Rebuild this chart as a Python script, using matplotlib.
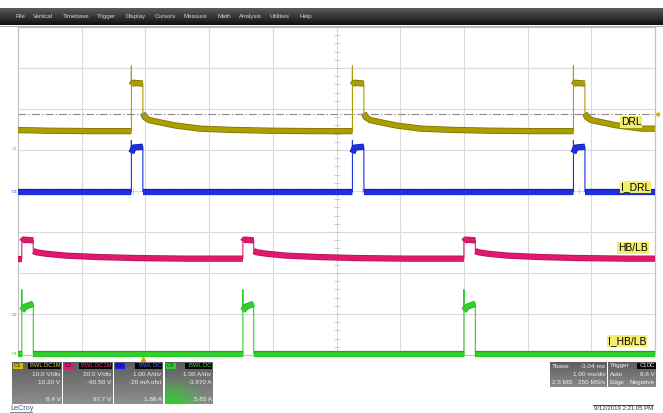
import numpy as np
import matplotlib.pyplot as plt
import matplotlib.colors as mcolors
from matplotlib.transforms import Bbox, TransformedBbox, blended_transform_factory

plt.rcParams['font.family'] = ['Liberation Sans', 'DejaVu Sans']

W, H = 663, 413

# horizontal: 1.00 ms/div, trigger delay -3.04 ms -> left edge at -1.96 ms
t_left, t_right = -1.96, 8.04
trigger_level = 8.6  # V, C1 negative edge

# C1  DRL voltage, 10 V/div, offset 10.20 V
drl_scale, drl_offset = 10.0, 10.20
drl_rise = [-3.65, -0.18, 3.29, 6.76]
drl_fall = [-3.47, 0.00, 3.47, 6.94]
drl_spike = 20.3
drl_top_f = [0.0, 0.15, 1.0]
drl_top_v = [15.6, 16.2, 16.0]
drl_tail_t = [0.0, 0.03, 0.10, 0.25, 0.50, 0.90, 1.40, 2.00, 2.70, 3.30]
drl_tail_v = [8.8, 7.8, 7.1, 6.6, 5.8, 5.0, 4.7, 4.5, 4.4, 4.35]

# C3  I_DRL current, 1.00 A/div, offset -20 mA
idrl_scale, idrl_offset = 1.0, -0.020
idrl_spike = 1.25
idrl_top_f = [0.0, 0.2, 1.0]
idrl_top_v = [0.95, 1.08, 1.10]
idrl_tail_t = [0.0, 3.3]
idrl_tail_v = [0.0, 0.0]

# C2  HB/LB voltage, 20 V/div, offset -60.50 V
hb_scale, hb_offset = 20.0, -60.50
hb_rise = [-5.37, -1.90, 1.57, 5.04]
hb_fall = [-5.20, -1.72, 1.74, 5.22]
hb_top_f = [0.0, 0.15, 1.0]
hb_top_v = [35.8, 36.8, 36.4]
hb_tail_t = [0.0, 0.05, 0.20, 0.50, 1.00, 1.60, 2.40, 3.30]
hb_tail_v = [31.2, 30.6, 29.9, 29.0, 28.3, 27.8, 27.5, 27.3]

# C4  I_HB/LB current, 1.00 A/div, offset -3.970 A
ihb_scale, ihb_offset = 1.0, -3.970
ihb_spike = 1.56
ihb_top_f = [0.0, 0.3, 1.0]
ihb_top_v = [1.05, 1.15, 1.22]
ihb_tail_t = [0.0, 3.3]
ihb_tail_v = [0.0, 0.0]

trace_labels = ['DRL', 'I_DRL', 'HB/LB', 'I_HB/LB']

menu_items = ['File', 'Vertical', 'Timebase', 'Trigger', 'Display', 'Cursors',
              'Measure', 'Math', 'Analysis', 'Utilities', 'Help']
menu_x = [15, 33, 63, 97, 125, 155, 184, 217, 239, 270, 300]

ch_names = ['C1', 'C2', 'C3', 'C4']
ch_coupling = ['BWL DC1M', 'BWL DC1M', 'BWL DC', 'BWL DC']
ch_vdiv = ['10.0 V/div', '20.0 V/div', '1.00 A/div', '1.00 A/div']
ch_ofst = ['10.20 V', '-60.50 V', '-20 mA ofst', '-3.970 A']
ch_meas = ['8.4 V', '97.7 V', '1.88 A', '5.83 A']

tbase_rows = [('Tbase', '-3.04 ms'), ('', '1.00 ms/div'), ('2.5 MS', '250 MS/s')]
trig_rows = [('Trigger', ''), ('Auto', '8.6 V'), ('Edge', 'Negative')]
stamp = '9/12/2019 2:21:05 PM'

c_drl, c_drl_d = '#aa9e00', '#7a7100'
c_idrl, c_idrl_d = '#1e30e0', '#1222a8'
c_hb, c_hb_d = '#e0186f', '#b0125a'
c_ihb, c_ihb_d = '#30d02b', '#1fa81e'


def build_trace(rise, fall, spike, top_f, top_v, tail_t, tail_v, t_end):
    thin_t, thin_v, bands = [], [], []
    for i, (r, f) in enumerate(zip(rise, fall)):
        nxt = rise[i + 1] if i + 1 < len(rise) else t_end
        top_t = [r + k * (f - r) for k in top_f]
        keep = [k for k, dt in enumerate(tail_t) if f + dt < nxt]
        tl_t = [f + tail_t[k] for k in keep] + [nxt]
        tl_v = [tail_v[k] for k in keep] + [tail_v[keep[-1]]]
        if spike is not None:
            thin_t.append(r)
            thin_v.append(spike)
        thin_t += top_t + tl_t
        thin_v += list(top_v) + tl_v
        bands.append((top_t, list(top_v)))
        bands.append((tl_t, tl_v))
    return thin_t, thin_v, bands


fig = plt.figure(figsize=(W / 100, H / 100), dpi=100)
fig.patch.set_facecolor('white')

# pixel-space background layer
bg = fig.add_axes([0, 0, 1, 1], zorder=0)
bg.set_axis_off()


def vgrad(ax, x0, x1, y0, y1, top, bottom, z=1):
    c = np.array([mcolors.to_rgb(top), mcolors.to_rgb(bottom)])
    img = np.linspace(0, 1, 32)[:, None, None] * (c[1] - c[0]) + c[0]
    ax.imshow(img, extent=(x0, x1, y1, y0), aspect='auto', zorder=z,
              interpolation='bilinear')


# menu bar
vgrad(bg, 0, W, 8, 25, '#5c5c5c', '#101010')
bg.plot([0, W], [25.5, 25.5], color='#9a9a9a', lw=0.6)
for name, x in zip(menu_items, menu_x):
    bg.text(x, 16.8, name, color='#d6d6d6', fontsize=4.4, va='center', ha='left')

# grid rectangle in pixels
gx0, gx1, gy0, gy1 = 18, 655, 27, 355
rect = [gx0 / W, 1 - gy1 / H, (gx1 - gx0) / W, (gy1 - gy0) / H]

ax = fig.add_axes(rect, zorder=1)
ax.set_xlim(t_left, t_right)
ax.set_ylim(-4, 4)
ax.set_facecolor('white')
for s in ax.spines.values():
    s.set_color('#c4c4c4')
    s.set_linewidth(0.9)
ax.set_xticks([])
ax.set_yticks([])
for k in range(1, 10):
    ax.axvline(t_left + k, color='#dadada', lw=0.8)
for k in range(-3, 4):
    ax.axhline(k, color='#dadada', lw=0.8)
xc = t_left + 5
ax.plot(np.full(41, xc), np.arange(-4, 4.01, 0.2), ls='none', marker='_',
        ms=4, mew=0.6, color='#c6c6c6')
ax.plot(t_left + np.arange(0, 10.01, 0.2), np.zeros(51), ls='none', marker='|',
        ms=4, mew=0.6, color='#c6c6c6')

clip = TransformedBbox(Bbox([[gx0 / 100, (H - 358) / 100], [gx1 / 100, (H - 24) / 100]]),
                       fig.dpi_scale_trans)

channels = [
    (drl_scale, drl_offset, drl_rise, drl_fall, drl_spike, drl_top_f, drl_top_v,
     drl_tail_t, drl_tail_v, c_drl, c_drl_d, 'C1'),
    (idrl_scale, idrl_offset, drl_rise, drl_fall, idrl_spike, idrl_top_f, idrl_top_v,
     idrl_tail_t, idrl_tail_v, c_idrl, c_idrl_d, 'C3'),
    (hb_scale, hb_offset, hb_rise, hb_fall, None, hb_top_f, hb_top_v,
     hb_tail_t, hb_tail_v, c_hb, c_hb_d, 'C2'),
    (ihb_scale, ihb_offset, hb_rise, hb_fall, ihb_spike, ihb_top_f, ihb_top_v,
     ihb_tail_t, ihb_tail_v, c_ihb, c_ihb_d, 'C4'),
]

ch_axes = []
for z, (scale, ofs, rise, fall, spike, tf, tv, tt, tvv, main, dark, cname) in enumerate(channels):
    cax = fig.add_axes(rect, zorder=2 + z)
    cax.set_xlim(t_left, t_right)
    cax.set_ylim(-4 * scale - ofs, 4 * scale - ofs)
    cax.set_axis_off()
    cax.patch.set_alpha(0)
    thin_t, thin_v, bands = build_trace(rise, fall, spike, tf, tv, tt, tvv, t_right)
    ln, = cax.plot(thin_t, thin_v, color=main, lw=0.8)
    ln.set_clip_box(clip)
    for bt, bv in bands:
        a, = cax.plot(bt, bv, color=dark, lw=4.5, solid_capstyle='butt')
        b, = cax.plot(bt, bv, color=main, lw=3.4, solid_capstyle='butt')
        a.set_clip_box(clip)
        b.set_clip_box(clip)
    # ground marker at the left of the grid
    tr = blended_transform_factory(fig.transFigure, cax.transData)
    cax.text(14.5 / W, 0.0, cname, transform=tr, fontsize=3.2, color=main,
             ha='center', va='center', clip_on=False)
    ch_axes.append(cax)

# trigger level on C1
cax = ch_axes[0]
cax.axhline(trigger_level, color='#8a8a8a', lw=0.8, dashes=(7, 2, 1.2, 2))
tr = blended_transform_factory(fig.transFigure, cax.transData)
cax.plot([656.5 / W], [trigger_level], transform=tr, marker='<', ms=2.5,
         color='#c8b400', clip_on=False)

# foreground layer in pixels
fg = fig.add_axes([0, 0, 1, 1], zorder=10)
fg.set_axis_off()
fg.patch.set_alpha(0)

label_pos = [(631, 121.7), (635.5, 187.3), (633, 247.8), (627, 341)]
for text, (x, y) in zip(trace_labels, label_pos):
    fg.text(x, y, text, fontsize=7.4, ha='center', va='center', color='black',
            bbox=dict(boxstyle='square,pad=0.08', fc='#f3ee6c', ec='none'))

# trigger position marker
fg.plot([143], [358.5], marker='^', ms=3, color='#d8a400')

# channel info boxes
box_x = [12, 63, 114, 165]
box_w = [50, 50, 49, 48]
badge_c = ['#cfbd00', '#e3157a', '#1a1ae6', '#2ecf2a']
badge_txt = ['#2a2600', '#3a0018', '#0c0c7a', '#0a4a08']
coup_txt = ['#d8c860', '#f0306a', '#4a5cff', '#40e040']
for i in range(4):
    x0, w = box_x[i], box_w[i]
    vgrad(bg, x0, x0 + w, 362, 404, '#5e5e5e', '#8e8e8e', z=2)
    if i == 3:
        yy, xx = np.mgrid[0:40, 0:48]
        d = np.hypot((xx - 4) / 40.0, (yy - 40) / 30.0)
        g = np.zeros((40, 48, 4))
        g[..., :3] = mcolors.to_rgb('#22d41e')
        g[..., 3] = np.clip(1.0 - d, 0, 1) ** 1.2
        bg.imshow(g, extent=(x0, x0 + w, 404, 364), aspect='auto', zorder=3)
    bg.add_patch(plt.Rectangle((x0 + 0.5, 362.5), 10, 6.5, fc=badge_c[i], ec='none', zorder=4))
    bg.text(x0 + 5.5, 365.8, ch_names[i], fontsize=4.2, color=badge_txt[i],
            ha='center', va='center', zorder=5)
    bg.add_patch(plt.Rectangle((x0 + w - 34 + (6 if i >= 2 else 0), 362.5),
                               33 - (6 if i >= 2 else 0), 6.5, fc='#050505',
                               ec='none', zorder=4))
    bg.text(x0 + w - 1.5, 365.8, ch_coupling[i], fontsize=4.2, color=coup_txt[i],
            ha='right', va='center', zorder=5)
    bg.text(x0 + w - 1.5, 375, ch_vdiv[i], fontsize=4.6, color='#f2f2f2',
            ha='right', va='center', zorder=5)
    bg.text(x0 + w - 1.5, 382.5, ch_ofst[i], fontsize=4.6, color='#f2f2f2',
            ha='right', va='center', zorder=5)
    bg.text(x0 + w - 1.5, 399.5, ch_meas[i], fontsize=4.6, color='#f2f2f2',
            ha='right', va='center', zorder=5)
    bg.text(x0 + 2, 399.5, '- - - -', fontsize=2.5, color='#b8b8b8',
            ha='left', va='center', zorder=5)

# timebase and trigger boxes
for x0, x1, rows in [(550, 607, tbase_rows), (608, 656, trig_rows)]:
    vgrad(bg, x0, x1, 362, 387, '#5e5e5e', '#8a8a8a', z=2)
    for k, (lt, rt) in enumerate(rows):
        y = 366 + k * 8.2
        if lt:
            bg.text(x0 + 1.5, y, lt, fontsize=4.6, color='#f2f2f2', ha='left',
                    va='center', zorder=5)
        if rt:
            bg.text(x1 - 1.5, y, rt, fontsize=4.6, color='#f2f2f2', ha='right',
                    va='center', zorder=5)
bg.add_patch(plt.Rectangle((637, 362.5), 18.5, 6.5, fc='#050505', ec='none', zorder=4))
bg.text(640, 365.8, 'C1', fontsize=4.2, color='#e8e8e8', ha='left', va='center', zorder=5)
bg.text(654.5, 365.8, 'DC', fontsize=4.2, color='#e8e8e8', ha='right', va='center', zorder=5)

# footer
bg.text(10, 408.5, 'LeCroy', fontsize=5.2, color='#4a5a78', ha='left', va='center')
bg.plot([10, 32], [412, 412], color='#4a5a78', lw=0.5)
bg.plot([593, 653], [405, 405], color='#222222', lw=0.6)
bg.text(653, 408.7, stamp, fontsize=4.3, color='#303030', ha='right', va='center')

bg.set_xlim(0, W)
bg.set_ylim(H, 0)
fg.set_xlim(0, W)
fg.set_ylim(H, 0)

fig.savefig('out.png', dpi=100, facecolor='white')
